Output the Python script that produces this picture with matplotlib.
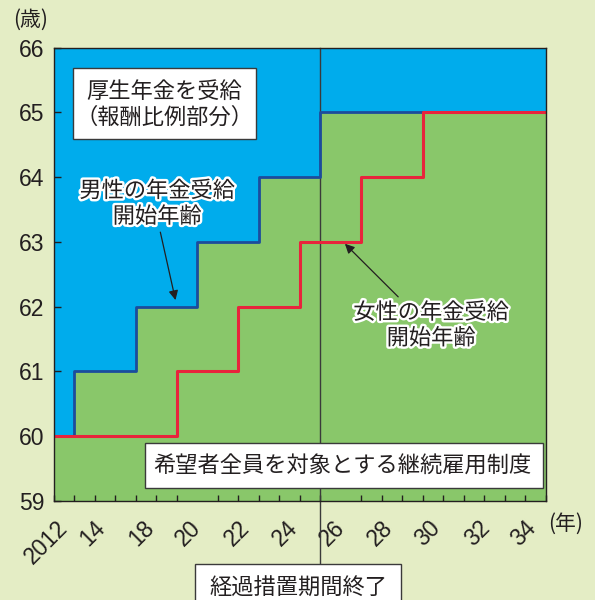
import matplotlib
matplotlib.use('Agg')
import matplotlib.pyplot as plt
import matplotlib.patheffects as pe
from matplotlib.patches import Rectangle
from matplotlib.transforms import blended_transform_factory

# pension start age steps (men / women), fiscal years
men_years = [2012, 2013, 2016, 2019, 2022, 2025, 2036]
men_age = [60, 61, 62, 63, 64, 65, 65]
women_years = [2012, 2018, 2021, 2024, 2027, 2030, 2036]
women_age = [60, 61, 62, 63, 64, 65, 65]
transition_end = 2025

year_ticks = list(range(2012, 2037))
age_ticks = list(range(59, 67))
# label positions as printed in the original (not aligned to the ticks)
xlabel_pos = [2012.5, 2014.3, 2016.7, 2019.0, 2021.4, 2023.7,
              2026.0, 2028.36, 2030.66, 2033.1, 2035.36]
xlabels = ['2012', '14', '18', '20', '22', '24', '26', '28', '30', '32', '34']

# colours
bg = '#E4EDC5'
blue = '#00ACEC'
green = '#89C76A'
navy = '#1C4C9C'
red = '#E8243C'
dark = '#231F20'

jp = ['Noto Sans CJK JP', 'DejaVu Sans']
plt.rcParams['font.family'] = ['Liberation Sans', 'Noto Sans CJK JP']

W, H = 595, 600
def fx(px):
    return px / W
def fy(py):
    return 1 - py / H

fig = plt.figure(figsize=(5.95, 6), dpi=100, facecolor=bg)
ax = fig.add_axes([fx(54), fy(500.7), (545.7 - 54) / W, (500.7 - 47.7) / H])
ax.set_facecolor(blue)

ax.fill_between(men_years, 59, men_age, step='post', color=green, lw=0,
                zorder=1)
ax.step(men_years, men_age, where='post', color=navy, lw=2.0, zorder=2)
ax.step(women_years, women_age, where='post', color=red, lw=2.2, zorder=2.1)

# end of transition period line, runs down out of the axes
trans = blended_transform_factory(ax.transData, fig.transFigure)
ax.plot([transition_end, transition_end], [fy(566), fy(47.7)],
        transform=trans, clip_on=False, color='#3a3a3a', lw=1, zorder=1.8)

ax.set_xlim(2012, 2036)
ax.set_ylim(59, 66)
for s in ax.spines.values():
    s.set_color(dark)
    s.set_linewidth(1)

ax.set_yticks(age_ticks)
ax.tick_params(axis='y', direction='in', length=5, width=1, color=dark,
               labelsize=16.5, labelcolor=dark, pad=7)
ax.set_xticks(year_ticks, minor=True)
ax.set_xticks(xlabel_pos)
ax.set_xticklabels(xlabels, rotation=45, ha='right', va='center',
                   rotation_mode='anchor')
ax.tick_params(axis='x', which='minor', direction='in', length=4.5, width=1,
               color=dark)
ax.tick_params(axis='x', which='major', length=0, pad=17, labelsize=16.5,
               labelcolor=dark)

# unit labels
fig.text(fx(31), fy(20), '(歳)', ha='center', va='center', fontsize=15,
         family=jp, color=dark)
fig.text(fx(566), fy(524), '(年)', ha='center', va='center', fontsize=15,
         family=jp, color=dark)

# line labels with white outline
halo = [pe.withStroke(linewidth=3.5, foreground='white')]
ax.text(2017.04, 63.59, '男性の年金受給\n開始年齢', ha='center', va='center',
        fontsize=16, family=jp, color=dark, linespacing=1.15,
        path_effects=halo, zorder=5)
ax.text(2030.41, 61.71, '女性の年金受給\n開始年齢', ha='center', va='center',
        fontsize=16, family=jp, color=dark, linespacing=1.15,
        path_effects=halo, zorder=5)
arrow = dict(arrowstyle='-|>', color=dark, lw=0.9, mutation_scale=14,
             shrinkA=0, shrinkB=0)
ax.annotate('', xy=(2017.93, 62.10), xytext=(2017.19, 63.15),
            arrowprops=arrow, zorder=5)
ax.annotate('', xy=(2026.20, 62.97), xytext=(2028.80, 62.15),
            arrowprops=arrow, zorder=5)

# white boxes
def box(x0, y0, x1, y1):
    fig.add_artist(Rectangle((fx(x0), fy(y1)), (x1 - x0) / W, (y1 - y0) / H,
                             transform=fig.transFigure, facecolor='white',
                             edgecolor='#3a3a3a', lw=1, zorder=2))

box(73, 68, 256, 139)
fig.text(fx(164.5), fy(104), '厚生年金を受給\n（報酬比例部分）', ha='center',
         va='center', fontsize=16, family=jp, color=dark, linespacing=1.15,
         zorder=3)
box(145, 443, 543, 488)
fig.text(fx(342), fy(466), '希望者全員を対象とする継続雇用制度', ha='center',
         va='center', fontsize=16, family=jp, color=dark, zorder=3)
box(195, 564, 401, 610)
fig.text(fx(298), fy(588), '経過措置期間終了', ha='center', va='center',
         fontsize=16, family=jp, color=dark, zorder=3)

fig.savefig('out.png', dpi=100, facecolor=bg)
